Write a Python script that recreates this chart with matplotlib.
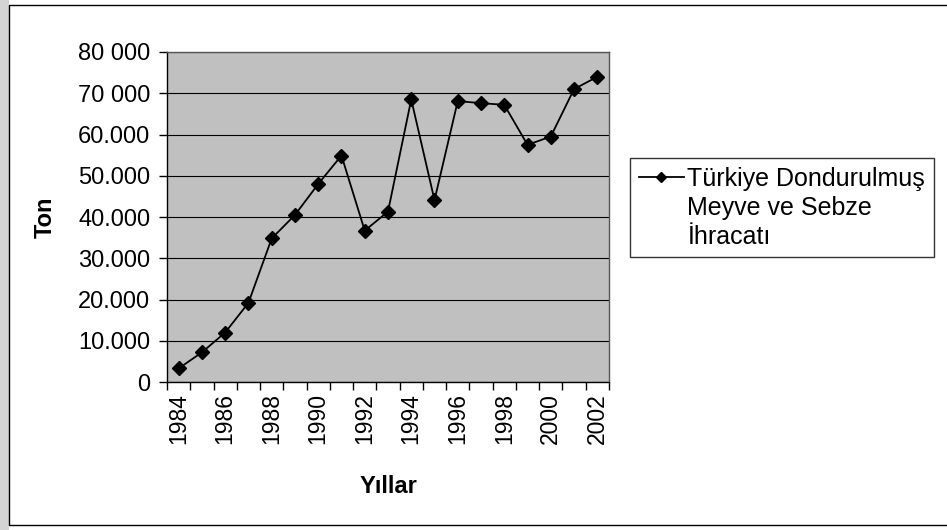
import matplotlib
matplotlib.use('Agg')
import matplotlib.pyplot as plt
from matplotlib.patches import Rectangle

plt.rcParams['font.family'] = ['Liberation Sans', 'DejaVu Sans']

years = list(range(1984, 2003))
tons = [3300, 7200, 12000, 19200, 34800, 40500, 48000, 54900, 36700, 41300,
        68500, 44100, 68100, 67600, 67200, 57500, 59500, 71000, 74000]
y_ticks = [0, 10000, 20000, 30000, 40000, 50000, 60000, 70000, 80000]
y_labels = ['0', '10.000', '20.000', '30.000', '40.000', '50.000',
            '60.000', '70 000', '80 000']
legend_lines = ['Türkiye Dondurulmuş', 'Meyve ve Sebze', 'İhracatı']

fig = plt.figure(figsize=(9.47, 5.30), dpi=100)
fig.patch.set_facecolor('white')

# chart area frame and scanned left edge
fig.patches.append(Rectangle((0, 0), 0.009, 1, transform=fig.transFigure,
                             facecolor='#d4d4d4', edgecolor='none', zorder=0))
fig.patches.append(Rectangle((0.009, 0.01), 1.2, 0.98, transform=fig.transFigure,
                             facecolor='none', edgecolor='black', lw=1.0, zorder=1))

ax = fig.add_axes([0.1764, 0.2792, 0.4666, 0.6227])
ax.set_facecolor('#c0c0c0')

x = list(range(len(years)))
line, = ax.plot(x, tons, color='black', lw=1.3, marker='D', ms=7,
                markerfacecolor='black', markeredgecolor='black', zorder=3)

ax.set_xlim(-0.5, len(years) - 0.5)
ax.set_ylim(0, 80000)
ax.set_yticks(y_ticks)
ax.set_yticklabels(y_labels, fontsize=17)
ax.yaxis.grid(True, color='black', lw=0.8)
ax.set_axisbelow(True)

# tick marks between categories, labels on every other year
ax.set_xticks([i - 0.5 for i in range(len(years) + 1)])
ax.set_xticklabels([])
ax.set_xticks(x[::2], minor=True)
ax.set_xticklabels([str(y) for y in years[::2]], minor=True,
                   rotation=90, fontsize=16.5)
ax.tick_params(axis='x', which='major', length=6, width=1, direction='out')
ax.tick_params(axis='x', which='minor', length=0, pad=8)
ax.tick_params(axis='y', length=6, width=1, direction='out', pad=6)

for s in ax.spines.values():
    s.set_color('black')
    s.set_linewidth(1.0)
ax.spines['top'].set_color('#555555')
ax.spines['right'].set_color('#555555')

ax.set_ylabel('Ton', fontsize=17, fontweight='bold', labelpad=15)
ax.set_xlabel('Yıllar', fontsize=17, fontweight='bold', labelpad=22)

blank1, = ax.plot([], [], alpha=0)
blank2, = ax.plot([], [], alpha=0)
leg = fig.legend([line, blank1, blank2], legend_lines, loc='upper left',
                 bbox_to_anchor=(0.665, 0.702), borderaxespad=0,
                 fontsize=18, frameon=True, fancybox=False, edgecolor='black',
                 handlelength=1.8, handletextpad=0.15, borderpad=0.35,
                 labelspacing=0.2, markerscale=0.8)
leg.get_frame().set_linewidth(1.0)

fig.savefig('out.png', dpi=100)
